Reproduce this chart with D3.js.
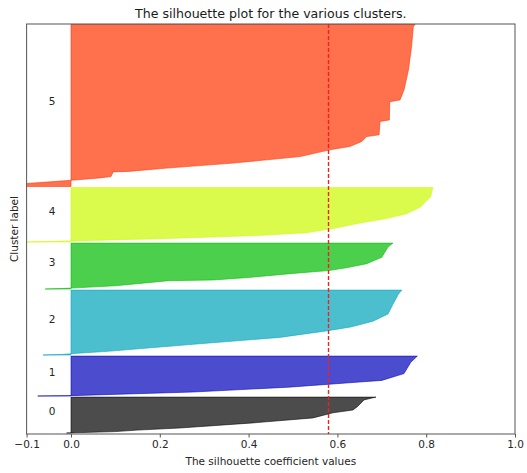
<!DOCTYPE html>
<html>
<head>
<meta charset="utf-8">
<script src="https://cdn.jsdelivr.net/npm/d3@7"></script>
<style>
  body { margin: 0; background: #fff; }
  svg { display: block; font-family: 'DejaVu Sans', sans-serif; }
</style>
</head>
<body>
<svg id="chart" width="527" height="473"></svg>
<script>
const clusterIds = [0, 1, 2, 3, 4, 5]
const clusterSizes = [360, 400, 650, 460, 545, 1625]
const clusterColors = ['#000000', '#0000bb', '#00a4bb', '#00bb00', '#ccf900', '#ff3300']

const ranks0 = [0, 14, 29, 50, 101, 151, 202, 230, 263, 331, 359]
const values0 = [-0.01, 0.10, 0.15, 0.245, 0.41, 0.545, 0.59, 0.635, 0.645, 0.66, 0.687]
const ranks1 = [0, 3, 6, 40, 88, 140, 156, 224, 336, 399]
const values1 = [-0.075, -0.02, 0.02, 0.275, 0.49, 0.65, 0.70, 0.75, 0.765, 0.78]
const ranks2 = [0, 6, 13, 39, 107, 176, 241, 280, 338, 410, 507, 605, 649]
const values2 = [-0.063, -0.02, 0.0, 0.09, 0.275, 0.47, 0.575, 0.63, 0.68, 0.714, 0.725, 0.737, 0.745]
const ranks3 = [0, 5, 9, 32, 83, 90, 115, 156, 184, 212, 253, 317, 419, 459]
const values3 = [-0.058, -0.02, 0.0, 0.10, 0.22, 0.32, 0.40, 0.50, 0.58, 0.62, 0.666, 0.70, 0.714, 0.725]
const ranks4 = [0, 6, 11, 33, 65, 93, 134, 185, 234, 283, 349, 452, 544]
const values4 = [-0.11, -0.04, 0.0, 0.20, 0.42, 0.53, 0.59, 0.645, 0.71, 0.756, 0.787, 0.81, 0.815]
const ranks5 = [0, 30, 62, 86, 99, 146, 151, 184, 234, 299, 367, 400, 450, 499, 517, 650, 666, 848, 866, 965, 1165, 1398, 1597, 1624]
const values5 = [-0.15, -0.10, 0.0, 0.065, 0.09, 0.095, 0.13, 0.216, 0.365, 0.516, 0.583, 0.628, 0.655, 0.666, 0.694, 0.696, 0.717, 0.718, 0.741, 0.75, 0.76, 0.767, 0.771, 0.775]

const allRanks = [ranks0, ranks1, ranks2, ranks3, ranks4, ranks5]
const allValues = [values0, values1, values2, values3, values4, values5]

const silhouetteAvg = 0.58
const xTicks = [-0.1, 0, 0.2, 0.4, 0.6, 0.8, 1.0]
const xDomain = [-0.1, 1.0]
const yMax = 4100
const gap = 10

const svg = d3.select('#chart')
const mLeft = 26.6, mRight = 515, mTop = 24, mBottom = 434

const x = d3.scaleLinear().domain(xDomain).range([mLeft, mRight])
const y = d3.scaleLinear().domain([0, yMax]).range([mBottom, mTop])

svg.append('clipPath')
    .attr('id', 'plot-clip')
  .append('rect')
    .attr('x', mLeft)
    .attr('y', mTop)
    .attr('width', mRight - mLeft)
    .attr('height', mBottom - mTop)

// stack the clusters from the bottom, like the matplotlib example does
let yLower = gap
const clusters = clusterIds.map((id, i) => {
  const c = {
    id: id,
    lower: yLower,
    size: clusterSizes[i],
    color: clusterColors[i],
    points: allRanks[i].map((r, j) => ({ rank: r, value: allValues[i][j] }))
  }
  yLower += clusterSizes[i] + gap
  return c
})

const area = d3.area()
  .curve(d3.curveLinear)

const plot = svg.append('g')
    .attr('clip-path', 'url(#plot-clip)')

plot.selectAll('path')
  .data(clusters)
  .join('path')
    .attr('d', c => area
      .y(p => y(c.lower + p.rank))
      .x0(x(0))
      .x1(p => x(p.value))(c.points))
    .attr('fill', c => c.color)
    .attr('fill-opacity', 0.7)
    .attr('stroke', c => c.color)
    .attr('stroke-opacity', 0.7)
    .attr('stroke-width', 0.8)

svg.append('g')
    .attr('font-size', 10.5)
    .attr('fill', '#262626')
  .selectAll('text')
  .data(clusters)
  .join('text')
    .attr('x', x(-0.05))
    .attr('y', c => y(c.lower + 0.5 * c.size))
    .text(c => c.id)

// average silhouette score
plot.append('line')
    .attr('x1', x(silhouetteAvg))
    .attr('x2', x(silhouetteAvg))
    .attr('y1', mTop)
    .attr('y2', mBottom)
    .attr('stroke', '#ee2222')
    .attr('stroke-width', 1.4)
    .attr('stroke-dasharray', '4,2')

svg.append('rect')
    .attr('x', mLeft)
    .attr('y', mTop)
    .attr('width', mRight - mLeft)
    .attr('height', mBottom - mTop)
    .attr('fill', 'none')
    .attr('stroke', '#555')
    .attr('stroke-width', 1)

const xAxis = d3.axisBottom(x)
  .tickValues(xTicks)
  .tickSize(3.5)
  .tickPadding(3)
  .tickFormat(d => d3.format('.1f')(d).replace('-', '\u2212'))

svg.append('g')
    .attr('transform', `translate(0,${mBottom})`)
    .call(xAxis)
    .call(g => g.select('.domain').remove())
    .call(g => g.selectAll('line').attr('stroke', '#555'))
    .call(g => g.selectAll('text')
      .attr('fill', '#262626')
      .attr('font-size', 10.5)
      .attr('font-family', 'DejaVu Sans, sans-serif'))

svg.append('text')
    .attr('x', (mLeft + mRight) / 2)
    .attr('y', 17.5)
    .attr('text-anchor', 'middle')
    .attr('font-size', 12.6)
    .attr('fill', '#1a1a1a')
    .text('The silhouette plot for the various clusters.')

svg.append('text')
    .attr('x', (mLeft + mRight) / 2)
    .attr('y', 465)
    .attr('text-anchor', 'middle')
    .attr('font-size', 10.5)
    .attr('fill', '#262626')
    .text('The silhouette coefficient values')

svg.append('text')
    .attr('transform', `translate(17.5,${(mTop + mBottom) / 2}) rotate(-90)`)
    .attr('text-anchor', 'middle')
    .attr('font-size', 10.5)
    .attr('fill', '#262626')
    .text('Cluster label')
</script>
</body>
</html>
